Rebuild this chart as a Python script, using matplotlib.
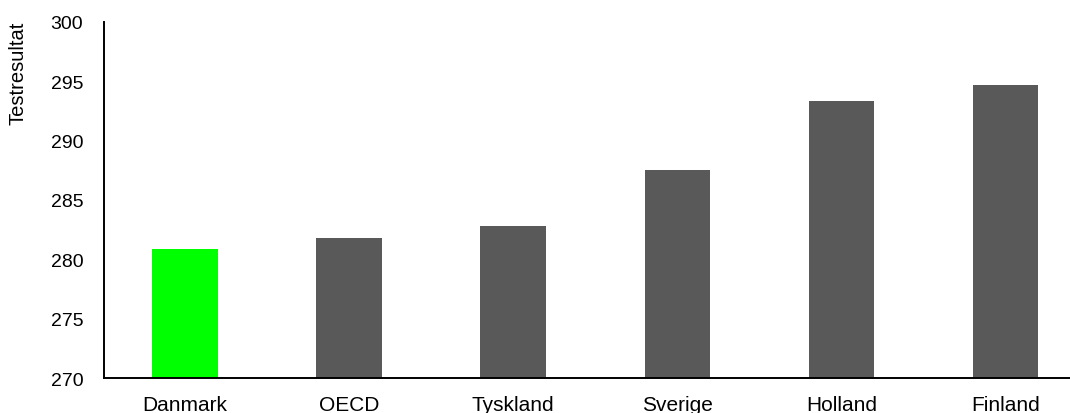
import numpy as np
import matplotlib.pyplot as plt

# Data
countries = ["Danmark", "OECD", "Tyskland", "Sverige", "Holland", "Finland"]
scores = [280.9, 281.8, 282.8, 287.5, 293.3, 294.7]
bar_colors = ["#00ff00", "#595959", "#595959", "#595959", "#595959", "#595959"]
y_ticks = [270, 275, 280, 285, 290, 295, 300]

plt.rcParams['font.family'] = ['Liberation Sans', 'DejaVu Sans']

fig = plt.figure(figsize=(10.7, 4.14), dpi=100)
ax = fig.add_axes([0.0972, 0.0845, 0.903, 0.86])

x = np.arange(len(countries))
ax.bar(x, scores, width=0.40, color=bar_colors)

ax.set_ylim(270, 300)
ax.set_xlim(-0.495, 5.395)
ax.set_yticks(y_ticks)
ax.set_xticks(x)
ax.set_xticklabels(countries)
ax.tick_params(axis='both', length=0, colors='black')
ax.tick_params(axis='y', pad=15, labelsize=14)
ax.tick_params(axis='x', pad=12, labelsize=15)

ax.set_ylabel("Testresultat", fontsize=14.5)
ax.yaxis.set_label_coords(-0.079, 0.858)

for side in ['top', 'right']:
    ax.spines[side].set_visible(False)
for side in ['left', 'bottom']:
    ax.spines[side].set_linewidth(1.4)
    ax.spines[side].set_color('black')

fig.savefig("out.png", dpi=100)
